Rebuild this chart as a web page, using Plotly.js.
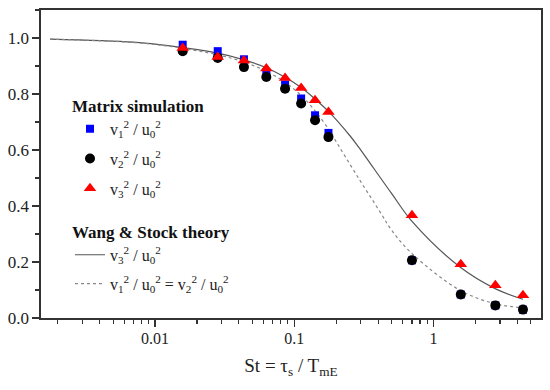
<!DOCTYPE html>
<html>
<head>
<meta charset="utf-8">
<script src="https://cdn.plot.ly/plotly-3.0.1.min.js"></script>
<style>html,body{margin:0;padding:0;background:#fff;}#chart{width:550px;height:390px;}</style>
</head>
<body>
<div id="chart"></div>
<script>
// Matrix simulation data (Stokes number St)
var stSim = [0.0158, 0.0282, 0.0435, 0.063, 0.0859, 0.112, 0.141, 0.176, 0.70, 1.57, 2.78, 4.39];
var v1sq = [0.976, 0.953, 0.924, 0.878, 0.834, 0.784, 0.724, 0.661, 0.206, 0.084, 0.045, 0.030];
var v2sq = [0.953, 0.929, 0.896, 0.861, 0.819, 0.766, 0.706, 0.646, 0.206, 0.084, 0.045, 0.030];
var v3sq = [0.964, 0.932, 0.920, 0.891, 0.857, 0.821, 0.778, 0.736, 0.367, 0.192, 0.117, 0.081];

// Wang & Stock theory curves
var stTh3 = [0.00176, 0.00698, 0.0128, 0.0282, 0.0435, 0.063, 0.0859, 0.112, 0.141, 0.176, 0.252, 0.289, 0.501, 0.701, 1.55, 2.77, 4.39];
var th3 = [0.996, 0.985, 0.972, 0.946, 0.922, 0.894, 0.860, 0.823, 0.782, 0.738, 0.650, 0.611, 0.444, 0.345, 0.182, 0.105, 0.067];
var stTh12 = [0.00176, 0.00698, 0.0128, 0.0282, 0.0435, 0.063, 0.0859, 0.112, 0.141, 0.176, 0.191, 0.289, 0.413, 0.501, 0.701, 1.55, 2.77, 4.39];
var th12 = [0.996, 0.984, 0.970, 0.940, 0.914, 0.881, 0.842, 0.795, 0.740, 0.675, 0.646, 0.500, 0.379, 0.313, 0.230, 0.099, 0.051, 0.037];

var xTickVals = [0.01, 0.1, 1];
var xTickText = ['0.01', '0.1', '1'];

var legendNames = {
  v1: 'v<sub>1</sub><sup>2</sup> / u<sub>0</sub><sup>2</sup>',
  v2: 'v<sub>2</sub><sup>2</sup> / u<sub>0</sub><sup>2</sup>',
  v3: 'v<sub>3</sub><sup>2</sup> / u<sub>0</sub><sup>2</sup>',
  th3: 'v<sub>3</sub><sup>2</sup> / u<sub>0</sub><sup>2</sup>',
  th12: 'v<sub>1</sub><sup>2</sup> / u<sub>0</sub><sup>2</sup> = v<sub>2</sub><sup>2</sup> / u<sub>0</sub><sup>2</sup>'
};

// minor tick positions for log axis (2..9 per decade)
var minorVals = [];
[0.001, 0.01, 0.1, 1].forEach(function (d) {
  for (var k = 2; k <= 9; k++) minorVals.push(d * k);
});

var font = 'Liberation Serif';

var traces = [
  {x: stTh3, y: th3, mode: 'lines', name: legendNames.th3, legend: 'legend2', legendgroup: 'g4',
   line: {color: '#555555', width: 1.2, shape: 'spline'}},
  {x: stTh12, y: th12, mode: 'lines', name: legendNames.th12, legend: 'legend2', legendgroup: 'g5',
   line: {color: '#888888', width: 1.2, dash: 'dot', shape: 'spline'}},
  {x: stSim, y: v1sq, mode: 'markers', name: legendNames.v1, legend: 'legend', legendgroup: 'g1',
   marker: {symbol: 'square', color: '#0000ff', size: 8}},
  {x: stSim, y: v2sq, mode: 'markers', name: legendNames.v2, legend: 'legend', legendgroup: 'g2',
   marker: {symbol: 'circle', color: '#000000', size: 10}},
  {x: stSim, y: v3sq, mode: 'markers', name: legendNames.v3, legend: 'legend', legendgroup: 'g3',
   marker: {symbol: 'triangle-up', color: '#ff0000', size: 11}}
];

var layout = {
  width: 550, height: 390,
  margin: {l: 41, r: 9, t: 10, b: 72},
  paper_bgcolor: '#ffffff', plot_bgcolor: '#ffffff',
  font: {family: font, size: 15, color: '#222222'},
  showlegend: true,
  xaxis: {
    type: 'log', range: [-2.819, 0.772],
    tickmode: 'array', tickvals: xTickVals, ticktext: xTickText,
    ticks: 'outside', ticklen: 7, tickwidth: 1.5, tickcolor: '#333',
    showline: true, linecolor: '#333', linewidth: 1.6, mirror: true,
    showgrid: false, zeroline: false, ticklabelstandoff: -2,
    tickfont: {family: font, size: 16, color: '#222'},
    minor: {tickmode: 'array', tickvals: minorVals, ticks: 'outside', ticklen: 4, tickwidth: 1.2, tickcolor: '#333', showgrid: false},
    title: {text: 'St = τ<sub>s</sub> / T<sub>mE</sub>', font: {family: font, size: 19, color: '#222'}, standoff: 13}
  },
  yaxis: {
    range: [0, 1.1], dtick: 0.2, tick0: 0, tickformat: '.1f',
    ticks: 'outside', ticklen: 7, tickwidth: 1.5, tickcolor: '#333',
    showline: true, linecolor: '#333', linewidth: 1.6, mirror: true,
    showgrid: false, zeroline: false,
    tickfont: {family: font, size: 17, color: '#222'},
    minor: {dtick: 0.1, ticks: 'outside', ticklen: 4, tickwidth: 1.2, tickcolor: '#333', showgrid: false}
  },
  legend: {
    x: 0.058, y: 0.741, xanchor: 'left', yanchor: 'top',
    bgcolor: 'rgba(0,0,0,0)', borderwidth: 0,
    title: {text: '<b>Matrix simulation</b>', font: {family: font, size: 17, color: '#111'}},
    font: {family: font, size: 16, color: '#222'},
    itemwidth: 30, tracegroupgap: 6
  },
  legend2: {
    x: 0.058, y: 0.332, xanchor: 'left', yanchor: 'top',
    bgcolor: 'rgba(0,0,0,0)', borderwidth: 0,
    title: {text: '<b>Wang &amp; Stock theory</b>', font: {family: font, size: 17, color: '#111'}},
    font: {family: font, size: 16, color: '#222'},
    itemwidth: 30, tracegroupgap: 5
  }
};

Plotly.newPlot('chart', traces, layout, {displayModeBar: false, staticPlot: true});
</script>
</body>
</html>
